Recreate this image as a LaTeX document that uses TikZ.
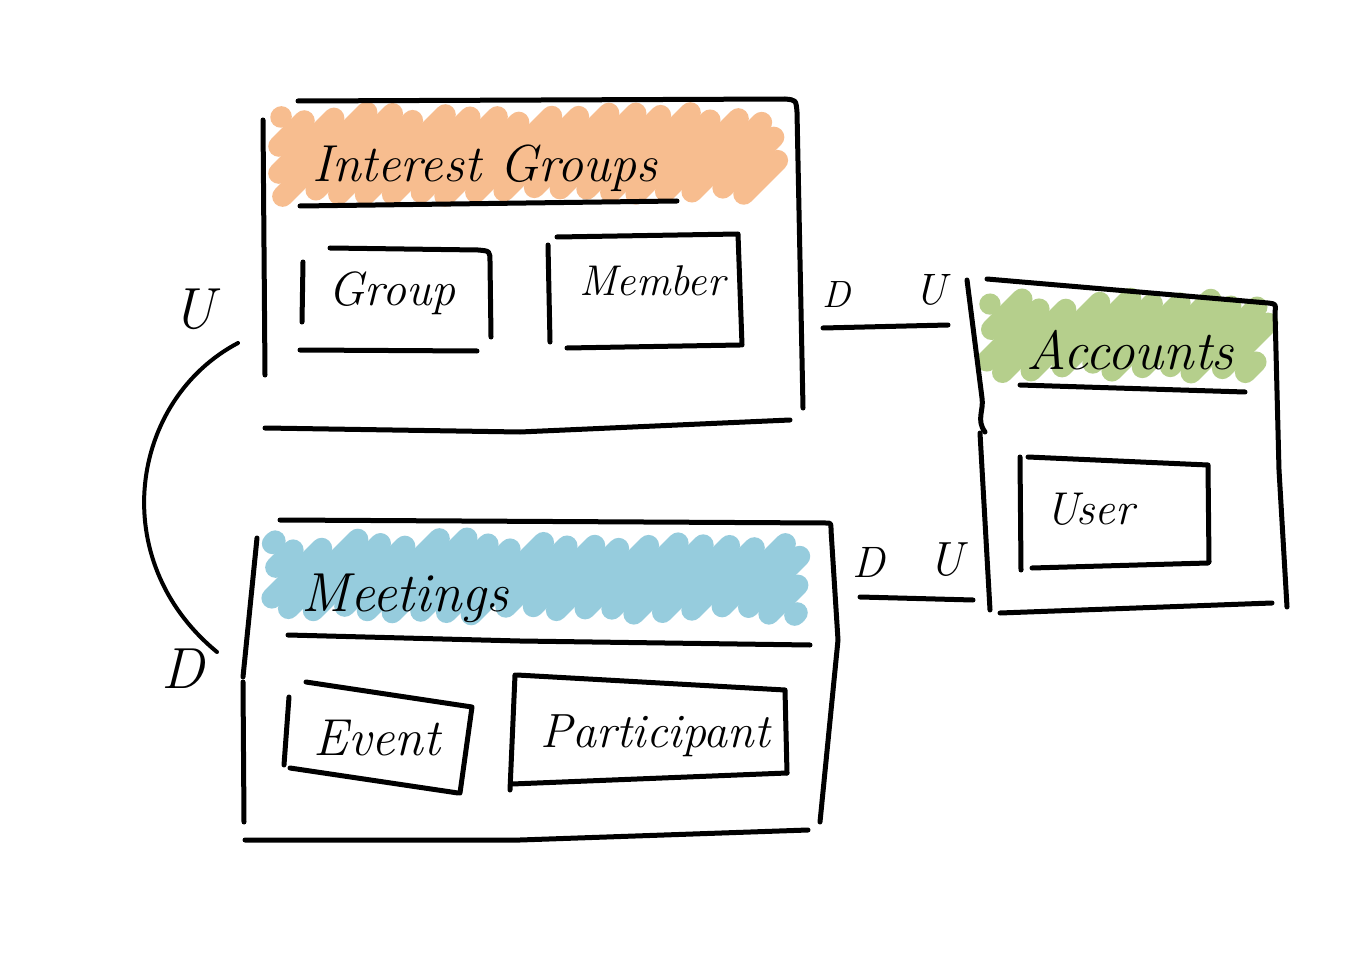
\documentclass[tikz,border=0pt]{standalone}
\usepackage{fontspec}
\definecolor{hlorange}{RGB}{247,189,143}
\definecolor{hlgreen}{RGB}{181,207,140}
\definecolor{hlblue}{RGB}{150,204,221}
% #1 colour, #2 x-left, #3 x-right, #4 y-top, #5 y-bottom, #6 spacing
\newcommand{\myhatch}[6]{%
  \pgfmathsetmacro{\cA}{#2+#4}%
  \pgfmathsetmacro{\cAB}{#2+#4+#6}%
  \pgfmathsetmacro{\cB}{#3+#5}%
  \foreach \c in {\cA,\cAB,...,\cB}{%
    \pgfmathsetmacro{\ra}{6*rand}%
    \pgfmathsetmacro{\rb}{6*rand}%
    \pgfmathsetmacro{\ya}{min(#5,\c-#2)+\ra}%
    \pgfmathsetmacro{\xa}{\c-min(#5,\c-#2)-\ra}%
    \pgfmathsetmacro{\yb}{max(#4,\c-#3)-\rb}%
    \pgfmathsetmacro{\xb}{\c-max(#4,\c-#3)+\rb}%
    \draw[hatch,#1] (\xa,\ya) -- (\xb,\yb);
  }%
}
\begin{document}
\begin{tikzpicture}[x=1pt,y=-1pt,
  ink/.style={line width=5pt,line cap=round,line join=round,black},
  hatch/.style={line width=21pt,line cap=round},
  lbl/.style={inner sep=0pt,font=\itshape\fontsize{#1}{#1}\selectfont},
  lbl/.default=48]
\pgfmathsetseed{7}
\fill[white] (0,0) rectangle (1366,960);
\useasboundingbox (0,0) rectangle (1366,960);

% highlighter hatching
\myhatch{hlorange}{280}{772}{118}{192}{27}
\myhatch{hlgreen}{990}{1262}{304}{368}{27}
\myhatch{hlblue}{272}{803}{544}{612}{27}

% titles
\node[lbl=52] (igT) at (485,168) {Interest Groups};
\node[lbl=55] (accT) at (1130,350) {Accounts};
\node[lbl=55] (meetT) at (405,598) {Meetings};
% entities
\node[lbl=48] (group) at (392,293) {Group};
\node[lbl=43] (member) at (652,281) {Member};
\node[lbl=46] (user) at (1090,509) {User};
\node[lbl=52] (event) at (377,738) {Event};
\node[lbl=48] (participant) at (655,736) {Participant};
% relationship labels
\node[lbl=58] (uL) at (194,309) {U};
\node[lbl=58] (dL) at (183,669) {D};
\node[lbl=38] (dA) at (837,295) {D};
\node[lbl=44] (uA) at (930,290) {U};
\node[lbl=44] (dB) at (869,562) {D};
\node[lbl=48] (uB) at (946,560) {U};

% connectors
\coordinate (igW) at (238,343);
\coordinate (meetW) at (217,652);
\draw[ink,line width=4pt] (igW) .. controls (130,400) and (105,560) .. (meetW);
\coordinate (igE) at (823,328);
\coordinate (accW1) at (948,325);
\draw[ink] (igE) -- (accW1);
\coordinate (meetE) at (860,597);
\coordinate (accW2) at (973,600);
\draw[ink] (meetE) -- (accW2);

% Interest Groups context
\draw[ink] (298,101) -- (785,99) .. controls (796,100) .. (797,112) -- (803,408);
\draw[ink] (263,120) -- (265,375);
\draw[ink] (265,428) -- (520,432) -- (790,420);
\draw[ink] (300,206) -- (677,201);
% Group
\draw[ink] (303,262) -- (302,322);
\draw[ink] (330,248) -- (478,250) .. controls (490,251) .. (490,262) -- (491,337);
\draw[ink] (300,350) -- (477,351);
% Member
\draw[ink] (548,245) -- (550,342);
\draw[ink] (557,237) -- (738,234) -- (742,345);
\draw[ink] (567,348) -- (740,345);

% Accounts context
\draw[ink] (987,279) -- (1268,303) .. controls (1276,304) .. (1275,312) -- (1279,470) -- (1287,607);
\draw[ink] (967,280) -- (982,398) .. controls (984,410) and (976,420) .. (985,432);
\draw[ink] (980,433) -- (990,610);
\draw[ink] (1000,613) -- (1272,603);
\draw[ink] (1020,385) -- (1245,392);
% User
\draw[ink] (1020,457) -- (1021,570);
\draw[ink] (1028,457) -- (1208,465) -- (1209,562);
\draw[ink] (1032,568) -- (1208,563);

% Meetings context
\draw[ink] (280,520) -- (826,523) .. controls (831,523) .. (831,530) -- (838,640) -- (820,822);
\draw[ink] (257,538) -- (243,677);
\draw[ink] (243,682) -- (244,822);
\draw[ink] (245,840) -- (520,840) -- (808,830);
\draw[ink] (288,635) -- (520,641) -- (810,645);
% Event
\draw[ink] (289,697) -- (284,765);
\draw[ink] (306,682) -- (472,707) -- (460,793);
\draw[ink] (290,768) -- (458,793);
% Participant
\draw[ink] (515,675) -- (510,790);
\draw[ink] (517,675) -- (785,690) -- (787,773);
\draw[ink] (512,784) -- (787,773);
\end{tikzpicture}
\end{document}
